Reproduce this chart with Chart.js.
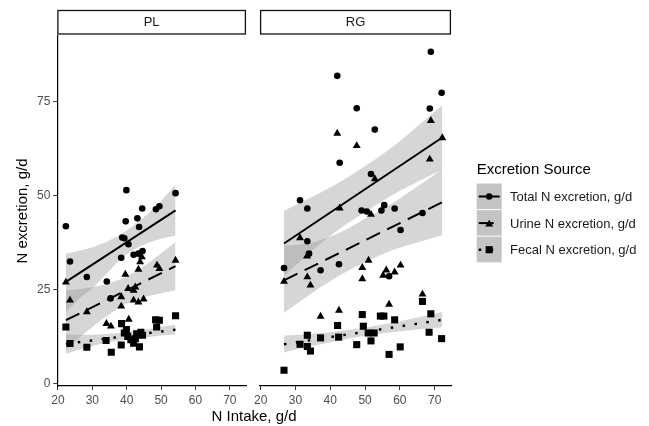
<!DOCTYPE html>
<html lang="en">
<head>
    <meta charset="UTF-8">
    <title>N excretion vs N intake</title>
    <!-- Chart.js -->
    <script src="https://cdn.jsdelivr.net/npm/chart.js"></script>
    <style>
        body {
            margin: 0;
            background: #fff;
        }
        #wrap {
            position: relative;
            width: 649px;
            height: 426px;
            font-family: "Liberation Sans", Arial, sans-serif;
        }
        #plChart {
            position: absolute;
            left: 0;
            top: 0;
        }
        #rgChart {
            position: absolute;
            left: 251px;
            top: 0;
        }
        .x-title {
            position: absolute;
            left: 154px;
            width: 200px;
            top: 407px;
            line-height: 17px;
            text-align: center;
            font-size: 15px;
            color: #000;
        }
    </style>
</head>
<body>
    <div id="wrap">
        <canvas id="plChart" width="251" height="426"></canvas>
        <canvas id="rgChart" width="398" height="426"></canvas>
        <div class="x-title">N Intake, g/d</div>
    </div>

    <script>
        // ---- data ----
        const xTicks = [20, 30, 40, 50, 60, 70];
        const yTicks = [0, 25, 50, 75];
        const panelNames = ['PL', 'RG'];
        const seriesNames = ['Total N excretion, g/d', 'Urine N excretion, g/d', 'Fecal N excretion, g/d'];

        // PL panel points
        const plIntakeTotal = [22.3, 23.5, 28.4, 34.2, 35.3, 38.4, 38.7, 39.3, 39.7, 39.9, 40.5, 42.0, 43.1, 43.4, 43.6, 44.5, 44.6, 48.5, 49.5, 54.2];
        const plTotal = [41.8, 32.4, 28.3, 27.1, 22.6, 33.4, 38.8, 38.6, 43.1, 51.4, 37.0, 34.2, 43.9, 34.5, 41.6, 46.5, 35.2, 46.3, 47.1, 50.6];
        const plIntakeUrine = [22.3, 23.5, 28.4, 34.1, 35.4, 38.4, 38.4, 39.6, 40.4, 40.6, 42.0, 42.5, 42.0, 43.4, 44.9, 43.4, 43.9, 44.4, 48.8, 49.5, 54.2];
        const plUrine = [26.9, 22.1, 19.0, 15.9, 15.2, 23.0, 20.5, 29.0, 25.2, 17.0, 24.7, 25.6, 22.1, 21.6, 22.4, 30.3, 32.3, 33.6, 31.4, 30.5, 32.7];
        const plIntakeFecal = [22.3, 23.5, 28.4, 34.0, 35.5, 38.4, 38.5, 39.3, 39.9, 40.3, 41.2, 42.0, 42.5, 42.9, 43.7, 44.1, 44.6, 48.4, 49.5, 48.7, 54.2];
        const plFecal = [15.0, 10.6, 9.6, 11.4, 8.3, 10.2, 15.9, 13.4, 14.3, 12.5, 11.6, 10.7, 11.9, 13.2, 9.7, 13.6, 12.8, 16.9, 16.8, 15.0, 18.0];

        // PL fitted lines and bands
        const plFitX = [22.3, 54.2];
        const plFitTotal = [27.0, 46.0];
        const plFitUrine = [16.8, 31.2];
        const plFitFecal = [10.5, 14.3];
        const plBandX = [22.3, 26, 30, 34, 38, 42, 46, 50, 54.2];
        const plTotalHi = [34.5, 35.2, 36.2, 37.6, 39.5, 42.0, 45.0, 48.5, 52.8];
        const plTotalLo = [19.0, 22.4, 25.3, 29.0, 32.8, 35.5, 37.3, 38.5, 39.3];
        const plUrineHi = [24.7, 25.1, 25.6, 26.4, 27.6, 29.4, 31.8, 34.6, 37.6];
        const plUrineLo = [8.9, 12.0, 15.0, 17.8, 20.2, 22.0, 23.2, 24.0, 24.8];
        const plFecalHi = [13.0, 12.9, 12.9, 13.1, 13.4, 13.8, 14.4, 15.0, 15.6];
        const plFecalLo = [7.9, 8.9, 9.9, 10.8, 11.4, 11.9, 12.3, 12.7, 13.0];

        // RG panel points
        const rgIntakeTotal = [26.7, 31.3, 33.4, 33.4, 33.9, 37.2, 42.0, 42.5, 42.7, 47.6, 49.0, 50.5, 51.7, 52.8, 54.7, 55.5, 56.9, 58.5, 60.2, 66.5, 68.6, 68.9, 72.0];
        const rgTotal = [30.7, 48.7, 46.5, 37.8, 34.5, 30.1, 81.8, 31.7, 58.7, 73.2, 46.0, 45.7, 55.7, 67.5, 46.0, 47.4, 28.5, 46.5, 40.8, 45.3, 73.1, 88.2, 77.3];
        const rgIntakeUrine = [26.7, 31.3, 33.3, 33.4, 34.3, 37.2, 42.0, 42.5, 42.7, 47.6, 49.2, 49.2, 51.0, 51.7, 52.8, 55.2, 56.1, 56.9, 58.5, 60.2, 66.5, 68.6, 68.9, 72.2];
        const rgUrine = [27.1, 38.7, 33.8, 28.3, 26.1, 17.8, 66.5, 19.4, 46.6, 63.2, 30.8, 27.8, 32.7, 44.9, 54.4, 28.7, 30.1, 21.0, 29.6, 31.4, 23.7, 59.6, 69.9, 65.3];
        const rgIntakeFecal = [26.7, 31.3, 33.4, 33.4, 34.3, 37.2, 42.1, 42.4, 47.6, 49.2, 49.5, 50.9, 51.7, 52.6, 54.4, 55.4, 56.9, 58.5, 60.1, 66.5, 68.9, 68.4, 72.0];
        const rgFecal = [3.5, 10.4, 12.8, 9.8, 8.6, 12.1, 15.4, 12.3, 10.3, 18.3, 15.2, 13.4, 11.3, 13.4, 17.9, 17.9, 7.7, 16.9, 9.7, 21.8, 18.5, 13.6, 11.9];

        // RG fitted lines and bands
        const rgFitX = [26.7, 72.2];
        const rgFitTotal = [37.2, 65.4];
        const rgFitUrine = [27.4, 48.2];
        const rgFitFecal = [10.4, 16.9];
        const rgBandX = [26.7, 35, 43, 51, 59, 67, 72.2];
        const rgTotalHi = [45.9, 49.7, 53.7, 58.4, 63.7, 69.9, 74.0];
        const rgTotalLo = [28.6, 35.5, 41.3, 46.2, 50.7, 54.5, 56.8];
        const rgUrineHi = [36.6, 37.5, 40.2, 44.3, 48.6, 53.6, 57.0];
        const rgUrineLo = [18.8, 24.2, 28.9, 32.7, 35.8, 38.0, 39.4];
        const rgFecalHi = [12.7, 13.2, 13.9, 15.0, 16.3, 17.9, 19.0];
        const rgFecalLo = [8.3, 10.0, 11.5, 12.8, 13.7, 14.5, 14.9];

        // ---- styling ----
        const FONT = '"Liberation Sans", Arial, sans-serif';
        const BAND = 'rgba(153, 153, 153, 0.4)';
        const styles = [
            { mark: 'circle', r: 3.3, dash: [] },
            { mark: 'triangle', r: 4.6, dash: [15, 8] },
            { mark: 'rect', r: 5, dash: [2.5, 9.5] }
        ];

        function xy(xs, ys) {
            return xs.map((x, i) => ({ x: x, y: ys[i] }));
        }

        function buildDatasets(pts, fitX, fits, bandX, bands) {
            const ds = [];
            pts.forEach((p, i) => ds.push({
                data: xy(p[0], p[1]),
                showLine: false,
                pointStyle: styles[i].mark,
                pointRadius: styles[i].r,
                pointBackgroundColor: '#000',
                pointBorderWidth: 0,
                order: 1
            }));
            fits.forEach((f, i) => ds.push({
                data: xy(fitX, f),
                borderColor: '#000',
                borderWidth: i === 2 ? 2.5 : 2,
                borderDash: styles[i].dash,
                pointRadius: 0,
                fill: false,
                order: 2
            }));
            bands.forEach(b => {
                ds.push({
                    data: xy(bandX, b[0]),
                    borderColor: 'rgba(0,0,0,0)',
                    borderWidth: 0,
                    pointRadius: 0,
                    fill: false,
                    cubicInterpolationMode: 'monotone',
                    order: 3
                });
                ds.push({
                    data: xy(bandX, b[1]),
                    borderColor: 'rgba(0,0,0,0)',
                    borderWidth: 0,
                    pointRadius: 0,
                    fill: '-1',
                    backgroundColor: BAND,
                    cubicInterpolationMode: 'monotone',
                    order: 3
                });
            });
            return ds;
        }

        function drawMark(ctx, style, x, y, r) {
            ctx.beginPath();
            if (style === 'circle') {
                ctx.arc(x, y, r, 0, Math.PI * 2);
            } else if (style === 'triangle') {
                const a = -Math.PI / 2;
                for (let k = 0; k < 3; k++) {
                    const t = a + k * 2 * Math.PI / 3;
                    const px = x + Math.cos(t) * r, py = y + Math.sin(t) * r + r * 0.25;
                    if (k === 0) ctx.moveTo(px, py); else ctx.lineTo(px, py);
                }
                ctx.closePath();
            } else {
                const s = r * Math.SQRT1_2;
                ctx.rect(x - s, y - s, 2 * s, 2 * s);
            }
            ctx.fill();
        }

        // strips, y title and legend
        const facetDecor = {
            id: 'facetDecor',
            afterDraw(chart, args, opts) {
                const ctx = chart.ctx, a = chart.chartArea;
                ctx.save();
                ctx.fillStyle = '#fff';
                ctx.fillRect(a.left, 10.5, a.right - a.left, 23.5);
                ctx.strokeStyle = '#111';
                ctx.lineWidth = 1.3;
                ctx.strokeRect(a.left + 0.6, 10.5, a.right - a.left - 1.2, 23.5);
                ctx.fillStyle = '#1a1a1a';
                ctx.font = '13px ' + FONT;
                ctx.textAlign = 'center';
                ctx.textBaseline = 'middle';
                ctx.fillText(opts.label, (a.left + a.right) / 2, 22.5);

                if (opts.yTitle) {
                    ctx.save();
                    ctx.translate(22.5, (a.top + a.bottom) / 2);
                    ctx.rotate(-Math.PI / 2);
                    ctx.fillStyle = '#000';
                    ctx.font = '15px ' + FONT;
                    ctx.fillText('N excretion, g/d', 0, 0);
                    ctx.restore();
                }

                if (opts.legend) {
                    const off = 251;
                    const kx = 476.7 - off;
                    ctx.fillStyle = '#000';
                    ctx.textAlign = 'left';
                    ctx.font = '15px ' + FONT;
                    ctx.fillText('Excretion Source', kx, 169.5);
                    ctx.font = '13px ' + FONT;
                    seriesNames.forEach((name, i) => {
                        const top = 183.5 + i * 26.6;
                        const cy = top + 13;
                        ctx.fillStyle = '#c4c4c4';
                        ctx.fillRect(kx, top, 25, 25.6);
                        ctx.strokeStyle = '#000';
                        ctx.lineWidth = i === 2 ? 2.5 : 2;
                        ctx.setLineDash(i === 1 ? [15, 8] : styles[i].dash);
                        ctx.beginPath();
                        ctx.moveTo(kx + 2, cy);
                        ctx.lineTo(kx + 23, cy);
                        ctx.stroke();
                        ctx.setLineDash([]);
                        ctx.fillStyle = '#000';
                        drawMark(ctx, styles[i].mark, kx + 12.5, cy, styles[i].r);
                        ctx.fillStyle = '#1a1a1a';
                        ctx.fillText(name, 510 - off, cy + 1);
                    });
                }
                ctx.restore();
            }
        };

        function xScale() {
            return {
                type: 'linear',
                min: 19.8,
                max: 74.7,
                afterBuildTicks: s => { s.ticks = xTicks.map(v => ({ value: v })); },
                afterFit: s => { s.height = 40; },
                ticks: { color: '#4d4d4d', font: { size: 12, family: FONT }, padding: 3, maxRotation: 0 },
                grid: { drawOnChartArea: false, drawTicks: true, tickLength: 4, color: '#333' },
                border: { display: true, color: '#000', width: 1.2 }
            };
        }

        function yScale(show) {
            const s = {
                type: 'linear',
                display: show,
                min: -0.7,
                max: 92.4,
                afterBuildTicks: sc => { sc.ticks = yTicks.map(v => ({ value: v })); },
                ticks: { color: '#4d4d4d', font: { size: 12, family: FONT }, padding: 3 },
                grid: { drawOnChartArea: false, drawTicks: true, tickLength: 4, color: '#333' },
                border: { display: true, color: '#000', width: 1.2 }
            };
            if (show) {
                s.afterFit = sc => { sc.width = 57.3; };
            }
            return s;
        }

        function makeChart(id, datasets, padding, decor, showY) {
            return new Chart(document.getElementById(id), {
                type: 'line',
                data: { datasets: datasets },
                options: {
                    responsive: false,
                    animation: false,
                    events: [],
                    layout: { padding: padding },
                    scales: { x: xScale(), y: yScale(showY) },
                    plugins: {
                        legend: { display: false },
                        tooltip: { enabled: false },
                        facetDecor: decor
                    }
                },
                plugins: [facetDecor]
            });
        }

        makeChart('plChart',
            buildDatasets(
                [[plIntakeTotal, plTotal], [plIntakeUrine, plUrine], [plIntakeFecal, plFecal]],
                plFitX, [plFitTotal, plFitUrine, plFitFecal],
                plBandX, [[plTotalLo, plTotalHi], [plUrineLo, plUrineHi], [plFecalLo, plFecalHi]]),
            { left: 0, right: 1.5, top: 36, bottom: 0 },
            { label: panelNames[0], yTitle: true, legend: false },
            true);

        makeChart('rgChart',
            buildDatasets(
                [[rgIntakeTotal, rgTotal], [rgIntakeUrine, rgUrine], [rgIntakeFecal, rgFecal]],
                rgFitX, [rgFitTotal, rgFitUrine, rgFitFecal],
                rgBandX, [[rgTotalLo, rgTotalHi], [rgUrineLo, rgUrineHi], [rgFecalLo, rgFecalHi]]),
            { left: 8, right: 198, top: 36, bottom: 0 },
            { label: panelNames[1], yTitle: false, legend: true },
            false);
    </script>
</body>
</html>
